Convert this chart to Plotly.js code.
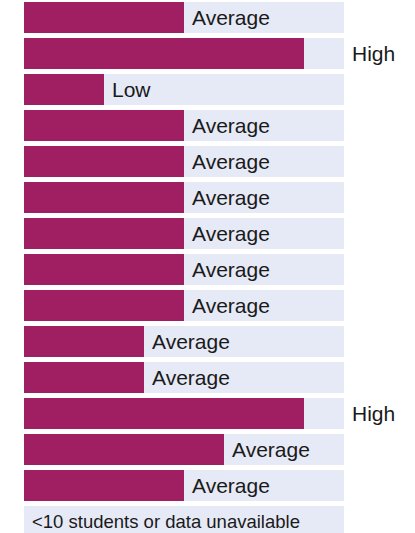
<!DOCTYPE html>
<html>
<head>
<meta charset="utf-8">
<script src="https://cdn.plot.ly/plotly-3.0.1.min.js"></script>
<style>
  html, body { margin: 0; padding: 0; background: #ffffff; overflow: hidden; }
  #chart { width: 415px; height: 533px; }
</style>
</head>
<body>
<div id="chart"></div>
<script>
// Rows (no visible tick labels in the reference)
const categories = ['Row 1','Row 2','Row 3','Row 4','Row 5','Row 6','Row 7','Row 8',
                    'Row 9','Row 10','Row 11','Row 12','Row 13','Row 14','Row 15'];
// Bar values on a 0–8 scale
const values = [4, 7, 2, 4, 4, 4, 4, 4, 4, 3, 3, 7, 5, 4, 0];
// Full-scale background value
const scaleMax = 8;
// Rating labels
const labels = ['Average','High','Low','Average','Average','Average','Average','Average',
                'Average','Average','Average','High','Average','Average',
                '<10 students or data unavailable'];

const barColor = '#A01E62';
const bandColor = '#E6E9F6';
const fontFamily = 'Liberation Sans, Arial, sans-serif';

const background = {
  type: 'bar',
  orientation: 'h',
  y: categories,
  x: categories.map(() => scaleMax),
  marker: { color: bandColor, line: { width: 0 } },
  hoverinfo: 'skip',
  showlegend: false
};

const bars = {
  type: 'bar',
  orientation: 'h',
  y: categories,
  x: values,
  marker: { color: barColor, line: { width: 0 } },
  hoverinfo: 'skip',
  showlegend: false
};

const annotations = categories.map((c, i) => {
  const isLong = labels[i].length > 12;
  return {
    x: labels[i] === 'High' ? scaleMax : values[i],
    y: c,
    xref: 'x',
    yref: 'y',
    text: labels[i],
    showarrow: false,
    xanchor: 'left',
    yanchor: 'middle',
    xshift: 6,
    font: { family: fontFamily, size: isLong ? 18.5 : 21, color: '#1a1a1a' }
  };
});

const layout = {
  width: 415,
  height: 533,
  margin: { l: 24, r: 71, t: 0, b: 0, pad: 0 },
  paper_bgcolor: '#ffffff',
  plot_bgcolor: '#ffffff',
  barmode: 'overlay',
  bargap: 5 / 36,
  xaxis: { range: [0, scaleMax], visible: false, fixedrange: true },
  yaxis: {
    type: 'category',
    range: [14.32, -0.486],
    visible: false,
    fixedrange: true
  },
  annotations: annotations,
  font: { family: fontFamily }
};

Plotly.newPlot('chart', [background, bars], layout, { displayModeBar: false, staticPlot: true });
</script>
</body>
</html>
